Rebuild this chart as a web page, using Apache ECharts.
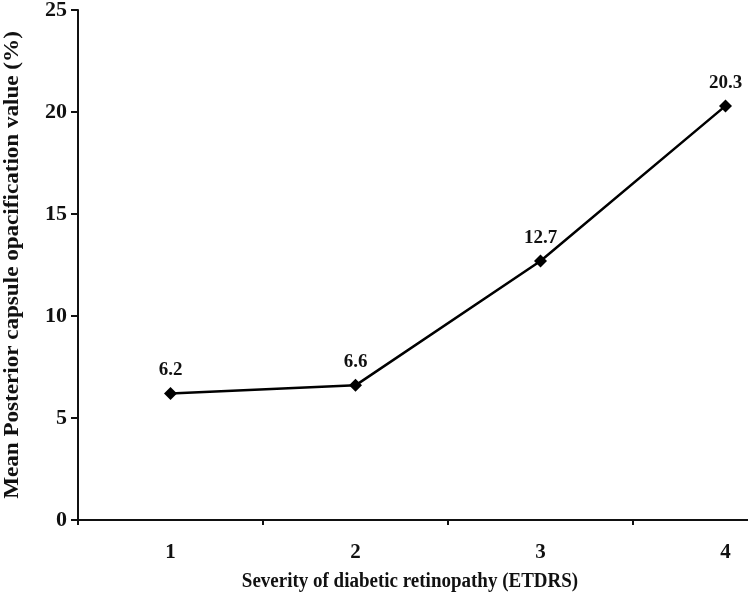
<!DOCTYPE html>
<html>
<head>
<meta charset="utf-8">
<script src="https://cdn.jsdelivr.net/npm/echarts@6/dist/echarts.min.js"></script>
<style>
  html, body { margin: 0; padding: 0; background: #fff; }
  #main { width: 748px; height: 600px; }
</style>
</head>
<body>
<div id="main"></div>
<script>
// severity grades and mean PCO values
const categories = ['1', '2', '3', '4'];
const pcoValues = [6.2, 6.6, 12.7, 20.3];
const yTicks = [0, 5, 10, 15, 20, 25];
const xTitle = 'Severity of diabetic retinopathy (ETDRS)';
const yTitle = 'Mean Posterior capsule opacification value (%)';

const serif = '"Liberation Serif", "DejaVu Serif", serif';
const chart = echarts.init(document.getElementById('main'), null, { renderer: 'canvas' });

const option = {
  backgroundColor: '#fff',
  animation: false,
  grid: {
    left: 78,
    top: 10,
    width: 740,   // the original figure is cut off at the right edge
    height: 510,
    outerBoundsMode: 'none'
  },
  // axis titles: the source figure is stretched, so scale the text a bit
  graphic: [
    {
      type: 'text',
      x: 410,
      y: 581,
      scaleY: 1.15,
      style: {
        text: xTitle,
        font: 'bold 19px ' + serif,
        fill: '#111',
        align: 'center',
        verticalAlign: 'middle'
      }
    },
    {
      type: 'text',
      x: 13,
      y: 265,
      rotation: Math.PI / 2,
      scaleX: 1.1,
      style: {
        text: yTitle,
        font: 'bold 21px ' + serif,
        fill: '#111',
        align: 'center',
        verticalAlign: 'middle'
      }
    }
  ],
  xAxis: {
    type: 'category',
    data: categories,
    boundaryGap: true,
    axisLine: { lineStyle: { color: '#111', width: 2 } },
    axisTick: { show: true, length: 5, inside: false, lineStyle: { color: '#111', width: 2 } },
    axisLabel: { fontFamily: serif, fontWeight: 'bold', fontSize: 21, color: '#111', margin: 22 },
    splitLine: { show: false }
  },
  yAxis: {
    type: 'value',
    min: yTicks[0],
    max: yTicks[yTicks.length - 1],
    interval: 5,
    axisLine: { show: true, lineStyle: { color: '#111', width: 2 } },
    axisTick: { show: true, length: 7, lineStyle: { color: '#111', width: 2 } },
    axisLabel: { fontFamily: serif, fontWeight: 'bold', fontSize: 22, color: '#111', margin: 11 },
    splitLine: { show: false }
  },
  series: [{
    type: 'line',
    data: pcoValues,
    symbol: 'diamond',
    symbolSize: 13,
    itemStyle: { color: '#000' },
    lineStyle: { color: '#000', width: 2.5 },
    label: {
      show: true,
      position: 'top',
      distance: 7,
      fontFamily: serif,
      fontWeight: 'bold',
      fontSize: 19,
      color: '#111'
    }
  }]
};

chart.setOption(option);
</script>
</body>
</html>
